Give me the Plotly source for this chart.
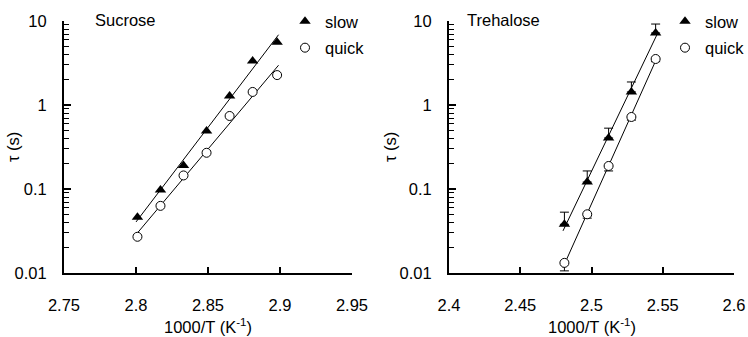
import numpy as np
import plotly.graph_objects as go

# ---------------- data ----------------
suc_x = [2.801, 2.817, 2.833, 2.849, 2.865, 2.881, 2.898]
suc_slow = [0.046, 0.097, 0.19, 0.49, 1.28, 3.34, 5.6]
suc_quick = [0.027, 0.063, 0.145, 0.27, 0.74, 1.43, 2.27]

tre_x = [2.481, 2.497, 2.512, 2.528, 2.545]
tre_slow = [0.038, 0.121, 0.405, 1.43, 7.2]
tre_slow_err_plus = [0.015, 0.043, 0.125, 0.45, 2.0]
tre_quick = [0.0132, 0.050, 0.188, 0.72, 3.53]
tre_quick_err_minus = [0.0026, 0.005, 0.024, 0.06, 0.25]

y_tickvals = [0.01, 0.1, 1, 10]
y_ticktext = ["0.01", "0.1", "1", "10"]
suc_xticks = [2.75, 2.8, 2.85, 2.9, 2.95]
tre_xticks = [2.4, 2.45, 2.5, 2.55, 2.6]
panel_titles = ["Sucrose", "Trehalose"]
x_title = "1000/T (K<sup>-1</sup>)"
y_title = "τ (s)"

FONT = "Liberation Sans, Arial, sans-serif"
FS = 16.5


def fit_line(x, y):
    x = np.asarray(x, float)
    k, b = np.polyfit(x, np.log10(y), 1)
    xs = np.array([x.min() - 0.001, x.max() + 0.001])
    return xs, 10 ** (k * xs + b)


fig = go.Figure()

# ---- Sucrose panel ----
for yv in (suc_slow, suc_quick):
    lx, ly = fit_line(suc_x, yv)
    fig.add_trace(go.Scatter(x=lx, y=ly, mode="lines", line=dict(color="black", width=1),
                             showlegend=False, xaxis="x", yaxis="y", hoverinfo="skip"))
fig.add_trace(go.Scatter(x=suc_x, y=suc_slow, mode="markers", name="slow",
                         marker=dict(symbol="triangle-up", size=10, color="black"),
                         xaxis="x", yaxis="y", legend="legend", legendgroup="a"))
fig.add_trace(go.Scatter(x=suc_x, y=suc_quick, mode="markers", name="quick",
                         marker=dict(symbol="circle", size=9, color="white",
                                     line=dict(color="black", width=1)),
                         xaxis="x", yaxis="y", legend="legend", legendgroup="b"))

# ---- Trehalose panel ----
for yv in (tre_slow, tre_quick):
    lx, ly = fit_line(tre_x, yv)
    fig.add_trace(go.Scatter(x=lx, y=ly, mode="lines", line=dict(color="black", width=1),
                             showlegend=False, xaxis="x2", yaxis="y2", hoverinfo="skip"))
fig.add_trace(go.Scatter(x=tre_x, y=tre_slow, mode="markers", name="slow",
                         marker=dict(symbol="triangle-up", size=10, color="black"),
                         error_y=dict(type="data", symmetric=False, array=tre_slow_err_plus,
                                      arrayminus=[0] * len(tre_x), color="black",
                                      thickness=1, width=4.5),
                         xaxis="x2", yaxis="y2", legend="legend2", legendgroup="c"))
fig.add_trace(go.Scatter(x=tre_x, y=tre_quick, mode="markers", name="quick",
                         marker=dict(symbol="circle", size=9, color="white",
                                     line=dict(color="black", width=1)),
                         error_y=dict(type="data", symmetric=False, array=[0] * len(tre_x),
                                      arrayminus=tre_quick_err_minus, color="black",
                                      thickness=1, width=4.5),
                         xaxis="x2", yaxis="y2", legend="legend2", legendgroup="d"))

xdom1 = [64 / 748, 352 / 748]
xdom2 = [449 / 748, 734 / 748]
ydom = [64 / 337, 316 / 337]

def xaxis(dom, ticks, rng, anchor):
    return dict(domain=dom, range=rng, tickvals=ticks, ticktext=[f"{t:g}" for t in ticks],
                ticks="inside", ticklen=6, tickwidth=1.5, tickcolor="black",
                showline=True, linecolor="black", linewidth=2, showgrid=False, zeroline=False,
                anchor=anchor, ticklabelstandoff=16, automargin=False,
                tickfont=dict(family=FONT, size=FS, color="black"))

def yaxis(anchor):
    return dict(domain=ydom, type="log", range=[-2, 1], tickvals=y_tickvals, ticktext=y_ticktext,
                ticks="inside", ticklen=7, tickwidth=1.5, tickcolor="black",
                minor=dict(ticks="inside", ticklen=5, tickwidth=1.2, tickcolor="black",
                           dtick="D1", showgrid=False),
                showline=True, linecolor="black", linewidth=2, showgrid=False, zeroline=False,
                anchor=anchor, ticklabelstandoff=12, automargin=False,
                tickfont=dict(family=FONT, size=FS, color="black"))

legend_common = dict(font=dict(family=FONT, size=FS, color="black"), bgcolor="rgba(0,0,0,0)",
                     borderwidth=0, tracegroupgap=2, traceorder="grouped",
                     xanchor="left", yanchor="top", yref="container", xref="container")

fig.update_layout(
    width=748, height=337,
    margin=dict(l=0, r=0, t=0, b=0, autoexpand=False),
    paper_bgcolor="white", plot_bgcolor="white",
    xaxis=xaxis(xdom1, suc_xticks, [2.75, 2.95], "y"),
    yaxis=yaxis("x"),
    xaxis2=xaxis(xdom2, tre_xticks, [2.4, 2.6], "y2"),
    yaxis2=yaxis("x2"),
    legend=dict(x=285 / 748, y=1.0 - 4 / 337, **legend_common),
    legend2=dict(x=665 / 748, y=1.0 - 4 / 337, **legend_common),
    showlegend=True,
)

txt_font = dict(family=FONT, size=FS, color="black")
for t, xr, xpos in zip(panel_titles, ["x domain", "x2 domain"], [0.10, 0.056]):
    fig.add_annotation(text=t, xref=xr, yref="paper", x=xpos, y=317 / 337,
                       xanchor="left", yanchor="middle", showarrow=False, font=txt_font)

# axis titles (x: centred below each panel; y: rotated, left of each axis)
for xr, yr, ytx in zip(["x domain", "x2 domain"], ["y domain", "y2 domain"], [13, 390]):
    fig.add_annotation(text=x_title, xref=xr, yref="paper", x=0.5, y=0,
                       xanchor="center", yanchor="bottom", showarrow=False, font=txt_font,
                       borderpad=0)
    fig.add_annotation(text=y_title, xref="paper", yref=yr, x=ytx / 748, y=0.5,
                       xanchor="center", yanchor="middle", textangle=-90,
                       showarrow=False, font=txt_font)

fig.write_html("out.html")
